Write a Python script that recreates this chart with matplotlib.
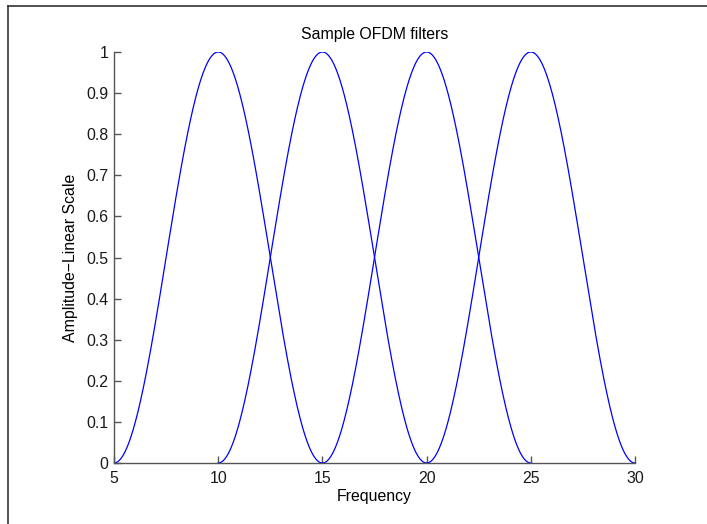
import numpy as np
import matplotlib
matplotlib.use('Agg')
import matplotlib.pyplot as plt
from matplotlib.lines import Line2D

# Filter centre frequencies and half-width of each raised-cosine filter
centers = [10, 15, 20, 25]
half_width = 5
peak = 1.0

x_ticks = [5, 10, 15, 20, 25, 30]
y_ticks = [0, 0.1, 0.2, 0.3, 0.4, 0.5, 0.6, 0.7, 0.8, 0.9, 1]
y_tick_labels = ['0', '0.1', '0.2', '0.3', '0.4', '0.5', '0.6', '0.7', '0.8', '0.9', '1']

plt.rcParams['font.family'] = ['Liberation Sans', 'DejaVu Sans']
fs = 11.4

fig = plt.figure(figsize=(7.07, 5.24), dpi=100)
ax = fig.add_axes([114 / 707, 61 / 524, 521 / 707, 411 / 524])

# Outer frame: only its top and left edges fall inside the image
fx, fy = 7.5 / 707, 1 - 5.5 / 524
fig.lines.append(Line2D([fx, 1.1], [fy, fy], transform=fig.transFigure,
                        color='#333333', linewidth=1.2))
fig.lines.append(Line2D([fx, fx], [-0.1, fy], transform=fig.transFigure,
                        color='#333333', linewidth=1.2))

for c in centers:
    f = np.linspace(c - half_width, c + half_width, 400)
    amp = peak * np.cos(np.pi * (f - c) / (2 * half_width)) ** 2
    ax.plot(f, amp, color='#0000ff', linewidth=0.9)

ax.set_xlim(5, 30)
ax.set_ylim(0, 1)
ax.set_xticks(x_ticks)
ax.set_yticks(y_ticks)
ax.set_yticklabels(y_tick_labels)

for side in ['top', 'right']:
    ax.spines[side].set_visible(False)
for side in ['left', 'bottom']:
    ax.spines[side].set_color('#555555')
    ax.spines[side].set_linewidth(1.0)

ax.tick_params(direction='in', length=5, width=1.0, color='#555555',
               labelsize=fs, labelcolor='#1a1a1a')
ax.tick_params(axis='x', pad=6)
ax.tick_params(axis='y', pad=4)

ax.set_title('Sample OFDM filters', fontsize=fs, pad=9)
ax.set_xlabel('Frequency', fontsize=fs, labelpad=2)
ax.set_ylabel('Amplitude\u2212Linear Scale', fontsize=fs, labelpad=6)

fig.savefig('out.png', dpi=100)
